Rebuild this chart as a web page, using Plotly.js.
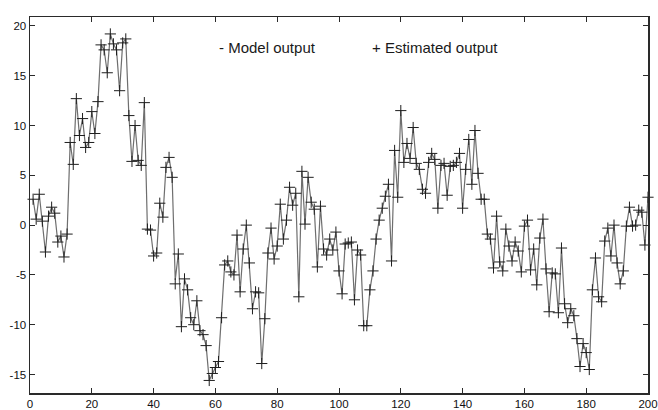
<!DOCTYPE html>
<html>
<head>
<meta charset="utf-8">
<script src="https://cdn.plot.ly/plotly-3.0.1.min.js"></script>
<style>html,body{margin:0;padding:0;background:#fff;}#chart{width:658px;height:410px;}</style>
</head>
<body>
<div id="chart"></div>
<script>
// sample index 1..200
const sampleIndex = Array.from({length: 200}, (_, k) => k + 1);

const modelOutput = [
  2.6, 0.6, 3.1, 0.4, -2.7, 0.9, 1.8, 1.2, -1.7, -1.1,
  -3.2, -0.9, 8.3, 6.1, 12.7, 9.0, 10.7, 7.8, 8.3, 11.4,
  9.2, 12.4, 18.1, 17.6, 15.3, 19.2, 18.2, 17.6, 13.5, 18.3,
  18.7, 11.0, 6.4, 10.0, 6.5, 6.0, 12.3, -0.4, -0.5, -3.1,
  -2.8, 2.2, 0.8, 5.8, 6.8, 4.8, -5.5, -2.9, -10.2, -5.4,
  -6.5, -9.3, -10.0, -7.6, -10.6, -11.0, -12.1, -15.6, -14.9, -14.3,
  -13.7, -9.3, -4.0, -3.6, -4.7, -5.0, -1.0, -6.7, -2.4, 0.0,
  -3.8, -8.4, -6.7, -6.8, -13.9, -9.4, -2.8, -0.3, -3.4, -2.1,
  2.1, -1.4, 0.5, 3.8, 2.0, 3.2, -7.2, 5.4, 0.1, 4.8,
  2.3, 1.6, -4.2, 1.9, -2.4, -3.0, -1.4, -2.5, -0.7, -4.6,
  -6.9, -1.9, -1.8, -1.7, -7.5, -2.5, -3.0, -10.1, -10.1, -6.5,
  -4.6, -1.4, 0.5, 1.7, 2.9, 4.1, -3.6, 7.5, 2.8, 11.5,
  6.3, 8.2, 6.7, 9.8, 6.2, 5.6, 3.6, 3.2, 6.3, 7.2,
  6.6, 1.7, 6.0, 6.2, 3.0, 5.9, 6.0, 6.3, 7.2, 1.7,
  5.6, 8.6, 4.1, 9.5, 5.2, 2.6, 2.6, -0.9, -1.4, -4.3,
  0.9, -3.7, -4.6, -0.4, -2.1, -3.6, -1.7, -2.6, -4.7, -0.1,
  0.5, -4.5, -2.4, -6.0, -1.3, 0.6, -4.4, -8.7, -4.8, -4.9,
  -8.8, -2.3, -7.9, -9.8, -8.4, -9.1, -11.4, -14.2, -11.9, -12.8,
  -14.5, -6.5, -3.3, -7.2, -7.7, -1.6, -0.3, -3.1, 0.0, -3.8,
  -5.9, -4.6, -0.1, 1.8, -0.1, 0.0, 1.5, 1.3, -2.0, 2.8
];

const estimatedOutput = [
  2.6, 0.6, 3.1, 0.4, -2.7, 0.9, 1.8, 1.2, -1.7, -1.1,
  -3.2, -0.9, 8.3, 6.1, 12.7, 9.0, 10.7, 7.8, 8.3, 11.4,
  9.2, 12.4, 18.1, 17.6, 15.3, 19.2, 18.2, 17.6, 13.5, 18.3,
  18.7, 11.0, 6.4, 10.0, 6.5, 6.0, 12.3, -0.4, -0.5, -3.1,
  -2.8, 2.2, 0.8, 5.8, 6.8, 4.8, -5.9, -2.9, -10.2, -5.4,
  -6.5, -9.3, -10.0, -7.6, -10.6, -11.0, -12.1, -15.6, -14.9, -14.3,
  -13.7, -9.3, -4.0, -3.6, -4.7, -5.0, -1.0, -6.7, -2.4, 0.0,
  -3.8, -8.4, -6.7, -6.8, -13.9, -9.4, -2.8, -0.3, -3.4, -2.1,
  2.1, -1.4, 0.5, 3.8, 2.0, 3.2, -7.2, 5.4, 0.1, 4.8,
  2.3, 1.6, -4.2, 1.9, -2.4, -3.0, -1.4, -2.5, -0.7, -4.6,
  -6.9, -1.9, -1.8, -1.7, -7.5, -2.5, -3.0, -10.1, -10.1, -6.5,
  -4.6, -1.4, 0.5, 1.7, 2.9, 4.1, -3.6, 7.5, 2.8, 11.5,
  6.3, 8.2, 6.7, 9.8, 6.2, 5.6, 3.6, 3.2, 6.3, 7.2,
  6.6, 1.7, 6.0, 6.2, 3.0, 5.9, 6.0, 6.3, 7.2, 1.7,
  5.6, 8.6, 4.1, 9.5, 5.2, 2.6, 2.6, -0.9, -1.4, -4.3,
  0.9, -3.7, -4.6, -0.4, -2.1, -3.6, -1.7, -2.6, -4.7, -0.1,
  0.5, -4.5, -2.4, -6.0, -1.3, 0.6, -4.4, -8.7, -4.8, -4.9,
  -8.8, -2.3, -7.9, -9.8, -8.4, -9.1, -11.4, -14.2, -11.9, -12.8,
  -14.5, -6.5, -3.3, -7.2, -7.7, -1.6, -0.3, -3.1, 0.0, -3.8,
  -5.9, -4.6, -0.1, 1.8, -0.1, 0.0, 1.5, 1.3, -2.0, 2.8
];

const xTicks = [0, 20, 40, 60, 80, 100, 120, 140, 160, 180, 200];
const yTicks = [-15, -10, -5, 0, 5, 10, 15, 20];
const legendLabels = ["- Model output", "+ Estimated output"];

const traces = [
  {
    x: sampleIndex, y: modelOutput, type: 'scatter', mode: 'lines',
    line: {color: '#6e6e6e', width: 1.2}, hoverinfo: 'skip'
  },
  {
    x: sampleIndex, y: estimatedOutput, type: 'scatter', mode: 'markers',
    marker: {symbol: 'cross-thin-open', size: 8, color: '#1e1e1e', line: {color: '#1e1e1e', width: 1}},
    cliponaxis: false, hoverinfo: 'skip'
  }
];

const axisCommon = {
  showline: true, linecolor: '#2a2a2a', linewidth: 1.5, mirror: 'ticks',
  ticks: 'inside', ticklen: 5, tickwidth: 1, tickcolor: '#2a2a2a',
  showgrid: false, zeroline: false, ticklabeloverflow: 'allow',
  tickfont: {family: 'Liberation Sans, Arial, sans-serif', size: 11.5, color: '#111111'}
};

const layout = {
  width: 658, height: 410,
  margin: {l: 30, r: 10, t: 17, b: 17, pad: 0},
  paper_bgcolor: '#ffffff', plot_bgcolor: '#ffffff',
  showlegend: false,
  xaxis: Object.assign({}, axisCommon, {range: [0, 200], tickvals: xTicks, ticktext: xTicks.map(String)}),
  yaxis: Object.assign({}, axisCommon, {range: [-16.86, 20.9], tickvals: yTicks, ticktext: yTicks.map(String)}),
  annotations: [
    {xref: 'paper', yref: 'paper', x: 0.384, y: 0.92, text: legendLabels[0], showarrow: false,
     xanchor: 'center', yanchor: 'middle', font: {family: 'Liberation Sans, Arial, sans-serif', size: 15, color: '#1a1a1a'}},
    {xref: 'paper', yref: 'paper', x: 0.656, y: 0.92, text: legendLabels[1], showarrow: false,
     xanchor: 'center', yanchor: 'middle', font: {family: 'Liberation Sans, Arial, sans-serif', size: 15, color: '#1a1a1a'}}
  ]
};

Plotly.newPlot('chart', traces, layout, {staticPlot: true, displayModeBar: false});
</script>
</body>
</html>
